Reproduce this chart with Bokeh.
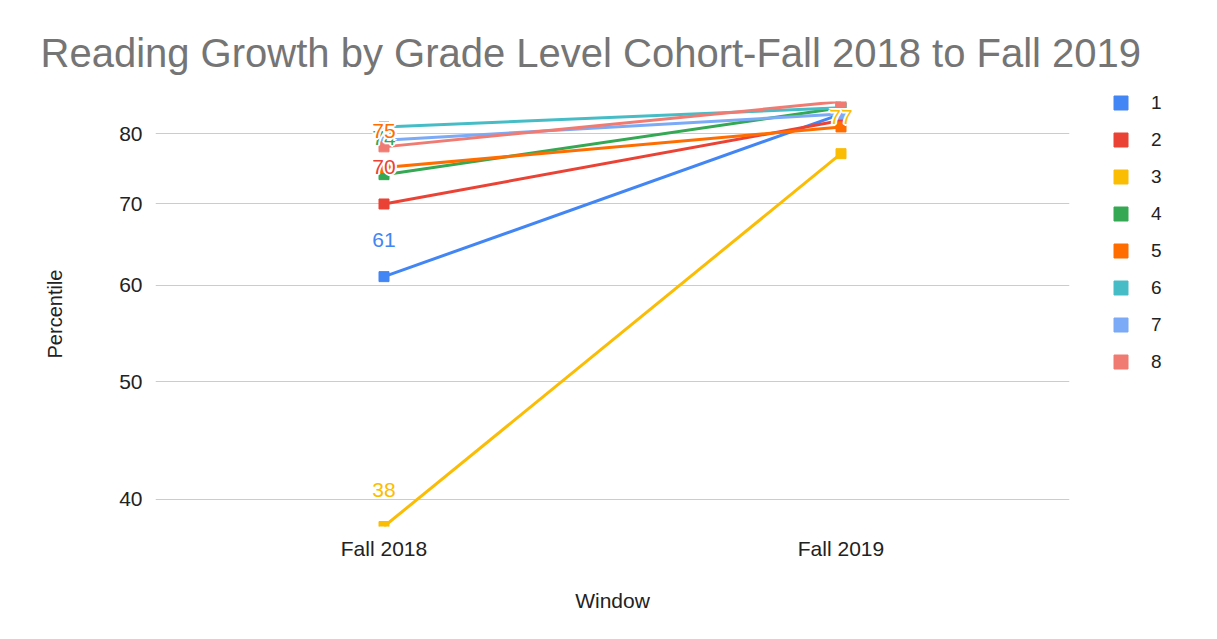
from bokeh.plotting import figure
from bokeh.models import FixedTicker, NumeralTickFormatter, Range1d, Legend, LegendItem
from bokeh.embed import file_html
from bokeh.resources import INLINE
from bokeh.core.properties import value

# ---- data ----
windows = ["Fall 2018", "Fall 2019"]
grades = ["1", "2", "3", "4", "5", "6", "7", "8"]
fall_2018 = [61, 70, 38, 74, 75, 81, 79, 78]
fall_2019 = [83, 82, 77, 84, 81, 84, 83, 85]
colors = ["#4285F4", "#EA4335", "#FBBC04", "#34A853", "#FF6D01", "#46BDC6", "#7BAAF7", "#F07B72"]
y_ticks = [40, 50, 60, 70, 80]
# data labels that are visible in the chart: (grade, window)
labelled_points = [("1", "Fall 2018"), ("2", "Fall 2018"), ("3", "Fall 2018"),
                   ("4", "Fall 2018"), ("5", "Fall 2018"), ("3", "Fall 2019")]

FONT = "Liberation Sans"

p = figure(frame_width=914, frame_height=425, x_range=windows, y_range=Range1d(38, 85),
           y_axis_type="log", output_backend="svg", toolbar_location=None,
           min_border_left=155, min_border_right=132, min_border_top=101, min_border_bottom=97,
           title="Reading Growth by Grade Level Cohort-Fall 2018 to Fall 2019")

p.title.text_font = FONT
p.title.text_font_size = "40px"
p.title.text_font_style = "normal"
p.title.text_color = "#757575"
p.title.offset = -115
p.title.standoff = 53

p.outline_line_color = None
p.xgrid.grid_line_color = None
p.ygrid.grid_line_color = "#cccccc"
p.ygrid.grid_line_width = 1

p.yaxis.ticker = FixedTicker(ticks=y_ticks)
p.yaxis.formatter = NumeralTickFormatter(format="0")
for ax in (p.xaxis[0], p.yaxis[0]):
    ax.axis_line_color = None
    ax.major_tick_line_color = None
    ax.minor_tick_line_color = None
    ax.major_tick_out = 0
    ax.major_tick_in = 0
    ax.minor_tick_out = 0
    ax.major_label_text_font = FONT
    ax.major_label_text_font_size = "21px"
    ax.major_label_text_color = "#222222"
    ax.axis_label_text_font = FONT
    ax.axis_label_text_font_size = "21px"
    ax.axis_label_text_font_style = "normal"
    ax.axis_label_text_color = "#222222"

p.yaxis.axis_label = "Percentile"
p.yaxis.axis_label_text_font_size = "20px"
p.yaxis.major_label_standoff = 13
p.yaxis.axis_label_standoff = 50
p.xaxis.axis_label = "Window"
p.xaxis.major_label_standoff = 10
p.xaxis.axis_label_standoff = 26

items = []
for g, c, a, b in zip(grades, colors, fall_2018, fall_2019):
    p.line(windows, [a, b], line_color=c, line_width=3)
    r = p.scatter(windows, [a, b], marker="square", size=10, fill_color=c, line_color=c)
    items.append(LegendItem(label=g, renderers=[r]))

lx, ly, lt, lc = [], [], [], []
for g, w in labelled_points:
    i = grades.index(g)
    v = fall_2018[i] if w == "Fall 2018" else fall_2019[i]
    lx.append(w)
    ly.append(v)
    lt.append(str(v))
    lc.append(colors[i])

halo = [(-2, 0), (2, 0), (0, -2), (0, 2), (-1.5, -1.5), (1.5, -1.5), (-1.5, 1.5), (1.5, 1.5)]
for j in range(len(lt)):
    # white halo, then coloured label on top
    for dx, dy in halo:
        p.text(x=[lx[j]], y=[ly[j]], text=[lt[j]], text_color="white",
               x_offset=dx, y_offset=-37 + dy, text_align="center", text_baseline="middle",
               text_font=value(FONT), text_font_size="21px")
    p.text(x=[lx[j]], y=[ly[j]], text=[lt[j]], text_color=lc[j], y_offset=-37,
           text_align="center", text_baseline="middle",
           text_font=value(FONT), text_font_size="21px")

legend = Legend(items=items, location=(34, 147), glyph_width=35, glyph_height=35,
                label_height=35, spacing=2, padding=0, margin=0, label_standoff=13,
                border_line_alpha=0, background_fill_alpha=0,
                label_text_font=FONT, label_text_font_size="19px", label_text_color="#222222")
p.add_layout(legend, "right")

open("out.html", "w").write(file_html(p, INLINE))
